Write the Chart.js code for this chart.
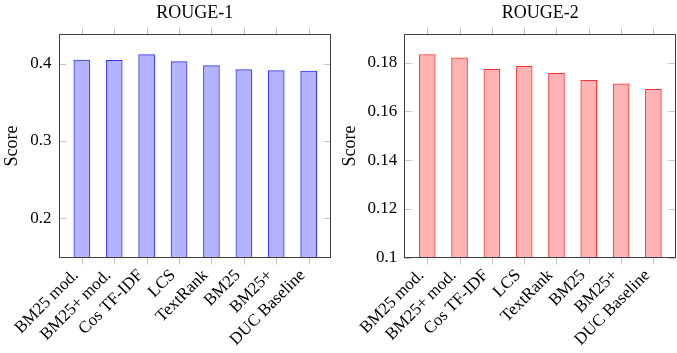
<!DOCTYPE html>
<html>
<head>
<meta charset="utf-8">
<script src="https://cdn.jsdelivr.net/npm/chart.js@4.4.0/dist/chart.umd.min.js"></script>
<style>
    html, body { margin: 0; padding: 0; background: #fff; }
    .panel { position: absolute; top: 0; height: 353px; }
</style>
</head>
<body>
<div class="panel" style="left:0;width:338px"><canvas id="rouge1"></canvas></div>
<div class="panel" style="left:338px;width:339px"><canvas id="rouge2"></canvas></div>
<script>
const methods = ['BM25 mod.', 'BM25+ mod.', 'Cos TF-IDF', 'LCS', 'TextRank', 'BM25', 'BM25+', 'DUC Baseline'];
const rouge1Scores = [0.4047, 0.4043, 0.4116, 0.4026, 0.3974, 0.3923, 0.3910, 0.3905];
const rouge2Scores = [0.1834, 0.1820, 0.1773, 0.1785, 0.1757, 0.1728, 0.1713, 0.1691];
const rouge1Ticks = [0.2, 0.3, 0.4];
const rouge2Ticks = [0.1, 0.12, 0.14, 0.16, 0.18];

const serif = '"Liberation Serif", "DejaVu Serif", serif';

// pgfplots-style frame with small tick marks on all four sides
const framePlugin = {
    id: 'frame',
    afterDatasetsDraw(chart) {
        const { ctx, chartArea: a, scales } = chart;
        const l = Math.round(a.left) + 0.5, r = Math.round(a.right) - 0.5;
        const t = Math.round(a.top) + 0.5, b = Math.round(a.bottom) - 0.5;
        ctx.save();
        ctx.strokeStyle = '#c4c4c4';
        ctx.lineWidth = 1;
        ctx.beginPath();
        scales.x.ticks.forEach((tick) => {
            const px = Math.round(scales.x.getPixelForValue(tick.value)) + 0.5;
            ctx.moveTo(px, t - 7); ctx.lineTo(px, t);
            ctx.moveTo(px, b); ctx.lineTo(px, b + 7);
        });
        scales.y.ticks.forEach((tick) => {
            const py = Math.round(scales.y.getPixelForValue(tick.value)) + 0.5;
            ctx.moveTo(l, py); ctx.lineTo(l + 7, py);
            ctx.moveTo(r - 7, py); ctx.lineTo(r, py);
        });
        ctx.stroke();
        ctx.strokeStyle = '#404040';
        ctx.lineWidth = 1;
        ctx.strokeRect(l, t, r - l, b - t);
        ctx.restore();
    },
};

const makeChart = (id, title, scores, yTicks, colors, range, box) => {
    const ctx = document.getElementById(id).getContext('2d');
    return new Chart(ctx, {
        type: 'bar',
        data: {
            datasets: [
                {
                    data: methods.map((m, i) => ({ x: i, y: scores[i] })),
                    backgroundColor: colors.fill,
                    borderColor: colors.border,
                    borderWidth: 1,
                    borderSkipped: 'start',
                    barThickness: 16,
                },
            ],
        },
        options: {
            responsive: true,
            maintainAspectRatio: false,
            animation: false,
            layout: { padding: { left: 0, right: box.padRight, top: 0, bottom: 0 } },
            plugins: {
                legend: { display: false },
                tooltip: { enabled: false },
                title: {
                    display: true,
                    text: title,
                    fullSize: false,
                    color: '#000',
                    font: { family: serif, size: 18, weight: 'normal' },
                    padding: { top: 2, bottom: 10.7 },
                },
            },
            scales: {
                x: {
                    type: 'linear',
                    offset: false,
                    min: range.xMin,
                    max: range.xMax,
                    grid: { display: false, drawTicks: false, offset: false },
                    border: { display: false },
                    afterBuildTicks: (scale) => {
                        scale.ticks = methods.map((m, i) => ({ value: i }));
                    },
                    afterFit: (scale) => { scale.height = 95.5; },
                    ticks: {
                        autoSkip: false,
                        minRotation: 45,
                        maxRotation: 45,
                        padding: 8,
                        labelOffset: -6,
                        color: '#000',
                        font: { family: serif, size: 17 },
                        callback: (value) => methods[value],
                    },
                },
                y: {
                    min: range.yMin,
                    max: range.yMax,
                    grid: { display: false, drawTicks: false },
                    border: { display: false },
                    afterBuildTicks: (scale) => {
                        scale.ticks = yTicks.map((v) => ({ value: v }));
                    },
                    afterFit: (scale) => { scale.width = box.yWidth; },
                    ticks: {
                        padding: 7,
                        color: '#000',
                        font: { family: serif, size: 17 },
                        callback: (value) => String(value),
                    },
                    title: {
                        display: true,
                        text: 'Score',
                        color: '#000',
                        font: { family: serif, size: 18 },
                        padding: { top: 1, bottom: 0 },
                    },
                },
            },
        },
        plugins: [framePlugin],
    });
};

makeChart('rouge1', 'ROUGE-1', rouge1Scores, rouge1Ticks,
    { fill: 'rgb(179, 179, 255)', border: 'rgb(50, 50, 255)' },
    { xMin: -0.72, xMax: 7.69, yMin: 0.149, yMax: 0.438 },
    { yWidth: 58.5, padRight: 7 });

makeChart('rouge2', 'ROUGE-2', rouge2Scores, rouge2Ticks,
    { fill: 'rgb(255, 179, 179)', border: 'rgb(255, 50, 50)' },
    { xMin: -0.71, xMax: 7.70, yMin: 0.1, yMax: 0.1917 },
    { yWidth: 66.3, padRight: 1 });
</script>
</body>
</html>
